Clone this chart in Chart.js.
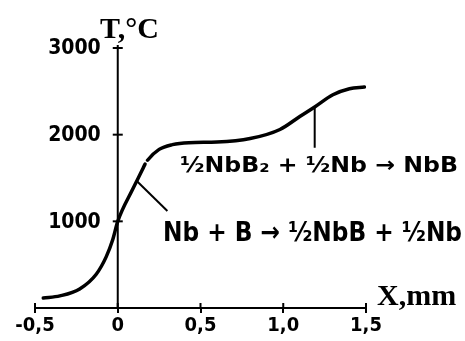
<!DOCTYPE html>
<html>
<head>
<meta charset="utf-8">
<script src="https://cdn.jsdelivr.net/npm/chart.js@4"></script>
<style>
html,body{margin:0;padding:0;background:#fff;}
#wrap{width:465px;height:341px;position:relative;}
</style>
</head>
<body>
<div id="wrap"><canvas id="c" width="465" height="341"></canvas></div>
<script>
// ---- data ----
const xPositions = [-0.45, -0.35, -0.23, -0.13, -0.07, -0.03, 0, 0.09, 0.15, 0.165, 0.18, 0.25, 0.33, 0.43, 0.6, 0.8, 0.98, 1.10, 1.19, 1.30, 1.40, 1.49];
const temperatures = [115, 140, 220, 390, 590, 790, 1000, 1370, 1600, 1660, 1705, 1830, 1885, 1908, 1915, 1955, 2060, 2210, 2320, 2460, 2530, 2550];
const gapStartX = 0.165; // short break in the drawn curve
const leader1X = [0.115, 0.30];
const leader1T = [1465, 1120];
const leader2X = [1.19, 1.19];
const leader2T = [2320, 1850];
const xTickValues = [-0.5, 0, 0.5, 1.0, 1.5];
const xTickLabels = ['-0,5', '0', '0,5', '1,0', '1,5'];
const yTickValues = [1000, 2000, 3000];
const yTickLabels = ['1000', '2000', '3000'];
const yAxisTitle = 'T,°C';
const xAxisTitle = 'X,mm';
const reactionUpper = '½NbB₂ + ½Nb → NbB';
const reactionLower = 'Nb + B → ½NbB + ½Nb';

const toPts = (xs, ys) => xs.map((x, i) => ({x: x, y: ys[i]}));

const axesPlugin = {
  id: 'axesPlugin',
  afterDraw(chart) {
    const ctx = chart.ctx;
    const xs = chart.scales.x, ys = chart.scales.y;
    const x0 = xs.getPixelForValue(0);
    ctx.save();
    ctx.strokeStyle = '#000';
    ctx.fillStyle = '#000';
    // y axis line at x = 0
    ctx.lineWidth = 2;
    ctx.beginPath();
    ctx.moveTo(x0, ys.getPixelForValue(0));
    ctx.lineTo(x0, ys.getPixelForValue(3000) - 3);
    ctx.stroke();
    // y ticks
    ctx.font = 'bold 21px "DejaVu Sans Condensed"';
    ctx.textAlign = 'right';
    ctx.textBaseline = 'middle';
    yTickValues.forEach((v, i) => {
      const py = ys.getPixelForValue(v);
      ctx.beginPath();
      ctx.moveTo(x0 - 5, py);
      ctx.lineTo(x0 + 5, py);
      ctx.stroke();
      ctx.fillText(yTickLabels[i], x0 - 17, py + 1);
    });
    // upward part of x ticks
    xTickValues.forEach(v => {
      const px = xs.getPixelForValue(v);
      ctx.beginPath();
      ctx.moveTo(px, xs.top);
      ctx.lineTo(px, xs.top - 5);
      ctx.stroke();
    });
    // axis titles
    ctx.textAlign = 'left';
    ctx.textBaseline = 'alphabetic';
    ctx.font = 'bold 30px "Liberation Serif"';
    ctx.fillText(yAxisTitle, 100, 38);
    ctx.fillText(xAxisTitle, 377, 305);
    // reaction labels, fitted to width
    const fitText = (txt, font, left, right, base) => {
      ctx.font = font;
      const w = ctx.measureText(txt).width;
      ctx.save();
      ctx.translate(left, base);
      ctx.scale((right - left) / w, 1);
      ctx.fillText(txt, 0, 0);
      ctx.restore();
    };
    fitText(reactionUpper, 'bold 21px "DejaVu Sans Condensed"', 180, 458, 172);
    fitText(reactionLower, 'bold 27px "DejaVu Sans Condensed"', 163, 462, 241);
    ctx.restore();
  }
};

new Chart(document.getElementById('c'), {
  type: 'line',
  data: {
    datasets: [
      {
        data: toPts(xPositions, temperatures),
        borderColor: '#000',
        borderWidth: 3.5,
        pointRadius: 0,
        cubicInterpolationMode: 'monotone',
        borderCapStyle: 'round',
        segment: {
          borderColor: c => (c.p0.parsed.x === gapStartX ? 'rgba(0,0,0,0)' : '#000')
        }
      },
      {
        data: toPts(leader1X, leader1T),
        borderColor: '#000', borderWidth: 2, pointRadius: 0
      },
      {
        data: toPts(leader2X, leader2T),
        borderColor: '#000', borderWidth: 2, pointRadius: 0
      }
    ]
  },
  options: {
    responsive: false,
    animation: false,
    layout: { padding: { left: 35, right: 99, top: 48, bottom: 0 } },
    plugins: { legend: { display: false }, tooltip: { enabled: false } },
    scales: {
      x: {
        type: 'linear',
        min: -0.5, max: 1.5,
        afterBuildTicks: s => { s.ticks = xTickValues.map(v => ({value: v})); },
        afterFit: s => { s.height = 33; },
        ticks: {
          color: '#000',
          padding: 1,
          maxRotation: 0,
          autoSkip: false,
          font: { family: 'DejaVu Sans Condensed', weight: 'bold', size: 20 },
          callback: (v, i) => xTickLabels[i]
        },
        grid: { drawOnChartArea: false, color: '#000', lineWidth: 2, tickLength: 5 },
        border: { display: true, color: '#000', width: 2 }
      },
      y: {
        type: 'linear',
        min: 0, max: 3000,
        display: false
      }
    }
  },
  plugins: [axesPlugin]
});
</script>
</body>
</html>
